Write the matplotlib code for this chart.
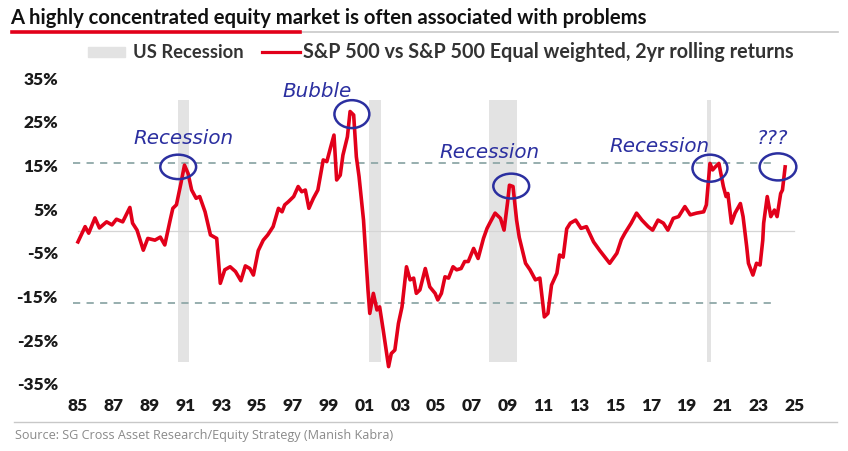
import matplotlib
matplotlib.use("Agg")
import matplotlib.pyplot as plt
from matplotlib.lines import Line2D
from matplotlib.patches import Rectangle, Ellipse

# Relative 2yr rolling returns, S&P 500 vs S&P 500 Equal weighted (%)
years = [
    1985.0, 1985.4, 1985.6, 1985.95, 1986.2, 1986.6, 1986.9, 1987.15, 1987.5, 1987.9,
    1988.05, 1988.3, 1988.65, 1988.9, 1989.3, 1989.6, 1989.85, 1990.15, 1990.3, 1990.5,
    1990.75, 1990.95, 1991.15, 1991.35, 1991.6, 1991.8, 1992.1, 1992.4, 1992.75, 1992.95,
    1993.2, 1993.5, 1993.8, 1994.1, 1994.35, 1994.6, 1994.8, 1995.07, 1995.35, 1995.6,
    1995.9, 1996.2, 1996.4, 1996.55, 1996.75, 1997.05, 1997.3, 1997.5, 1997.7, 1997.9,
    1998.15, 1998.4, 1998.7, 1998.9, 1999.1, 1999.3, 1999.45, 1999.65, 1999.8, 2000.05,
    2000.2, 2000.4, 2000.55, 2000.7, 2000.95, 2001.2, 2001.3, 2001.5, 2001.7, 2001.85,
    2002.05, 2002.35, 2002.5, 2002.7, 2002.9, 2003.1, 2003.35, 2003.55, 2003.75, 2003.9,
    2004.1, 2004.4, 2004.65, 2004.95, 2005.1, 2005.3, 2005.5, 2005.7, 2005.95, 2006.15,
    2006.4, 2006.6, 2006.8, 2007.1, 2007.35, 2007.65, 2007.85, 2008.0, 2008.3, 2008.6,
    2008.8, 2009.0, 2009.1, 2009.3, 2009.5, 2009.65, 2010.0, 2010.25, 2010.55, 2010.8,
    2011.05, 2011.25, 2011.45, 2011.75, 2011.9, 2012.1, 2012.3, 2012.5, 2012.8, 2013.1,
    2013.4, 2013.8, 2014.15, 2014.7, 2015.1, 2015.35, 2015.55, 2015.9, 2016.2, 2016.5,
    2016.85, 2017.1, 2017.4, 2017.7, 2017.95, 2018.25, 2018.55, 2018.9, 2019.2, 2019.55,
    2019.95, 2020.1, 2020.3, 2020.45, 2020.6, 2020.8, 2021.05, 2021.2, 2021.3, 2021.5,
    2021.7, 2022.0, 2022.15, 2022.35, 2022.45, 2022.7, 2022.9, 2023.1, 2023.25, 2023.3,
    2023.5, 2023.7, 2023.9, 2024.05, 2024.25, 2024.35, 2024.5,
]
returns = [
    -2.5, 1.0, -0.5, 3.0, 0.7, 2.1, 1.4, 2.7, 2.1, 5.4,
    1.8, 0.2, -4.4, -1.7, -2.1, -1.4, -3.2, 2.5, 5.2, 6.0,
    10.9, 15.1, 13.2, 9.4, 7.5, 7.9, 4.4, -0.9, -1.7, -12.0,
    -8.9, -8.2, -9.3, -11.4, -8.0, -8.6, -10.1, -4.5, -2.1, -0.9,
    1.0, 5.2, 4.4, 6.0, 6.7, 7.9, 10.2, 9.0, 9.4, 5.2,
    7.5, 9.4, 16.3, 15.9, 19.0, 22.0, 11.7, 12.8, 17.4, 21.6,
    27.4, 26.6, 17.0, 12.5, 2.5, -13.5, -18.9, -14.3, -18.1, -17.4,
    -22.7, -31.1, -28.1, -27.3, -21.2, -17.4, -8.2, -11.2, -10.8, -14.3,
    -13.5, -8.6, -12.8, -14.3, -15.8, -14.3, -10.5, -10.8, -8.2, -8.9,
    -8.6, -7.0, -7.0, -4.0, -6.3, -1.7, 0.6, 1.8, 4.1, 2.9,
    0.2, 6.7, 10.5, 10.2, 2.5, -1.5, -7.4, -8.9, -11.2, -10.8,
    -19.7, -18.9, -12.4, -9.7, -5.5, -6.0, 0.5, 1.8, 2.5, 0.6,
    1.0, -2.5, -4.5, -7.4, -5.1, -2.0, -0.5, 1.8, 4.1, 2.5,
    1.0, 0.2, 2.5, 1.8, 0.2, 2.9, 3.3, 5.6, 3.7, 4.1,
    4.4, 6.0, 15.5, 14.0, 14.7, 15.5, 10.2, 7.9, 8.6, 1.8,
    4.1, 6.3, 3.3, -3.5, -7.4, -10.1, -7.4, -7.8, -2.1, 1.8,
    7.9, 3.3, 4.8, 3.3, 8.6, 9.4, 14.7,
]

recessions = [(1990.6, 1991.2), (2001.25, 2001.9), (2007.95, 2009.5), (2020.15, 2020.35)]
upper_band = 15.6
lower_band = -16.5

tick_years = list(range(1985, 2026, 2))
tick_labels = [f"{y % 100:02d}" for y in tick_years]
y_ticks = [-35, -25, -15, -5, 5, 15, 25, 35]

# annotations: (text, x, y) and circles (x, y, width, height)
notes = [("Recession", 1990.87, 21.3), ("Bubble", 1998.35, 31.9),
         ("Recession", 2008.0, 18.1), ("Recession", 2017.46, 19.3), ("???", 2023.8, 21.3)]
circles = [(1990.6, 14.7, 2.0, 5.6), (2000.3, 26.8, 1.95, 6.4), (2009.2, 10.3, 2.0, 5.7),
           (2020.3, 14.4, 1.95, 6.2), (2024.1, 14.7, 2.05, 6.2)]

RED = "#E2001A"
BLUE = "#2B2FA0"
W, H = 848, 451

fig = plt.figure(figsize=(W / 100, H / 100), dpi=100)
fig.patch.set_facecolor("white")
renderer = fig.canvas.get_renderer()


def fitted_text(x, y, s, width_px, **kw):
    # put text at pixel position and scale font so it spans width_px
    t = fig.text(x / W, 1 - y / H, s, va="center", **kw)
    w = t.get_window_extent(renderer).width
    t.set_fontsize(t.get_fontsize() * width_px / w)
    return t


ax = fig.add_axes([69 / W, (H - 388) / H, (812 - 69) / W, (388 - 74) / H])

for a, b in recessions:
    ax.fill_between([a, b], -30, 30, color="#E3E3E3", lw=0, zorder=0)

ax.plot([1985, 2025], [0, 0], color="#D5D5D5", lw=0.9, zorder=1)
ax.plot([1984.75, 2023.95], [upper_band] * 2, ls=(0, (4, 3.5)), color="#8FA8A8", lw=1.3, zorder=1)
ax.plot([1984.75, 2023.7], [lower_band] * 2, ls=(0, (4, 3.5)), color="#8FA8A8", lw=1.3, zorder=1)

ax.plot(years, returns, color=RED, lw=2.6, solid_joinstyle="round", zorder=3)

for txt, x, y in notes:
    ax.text(x, y, txt, color=BLUE, fontsize=14.3, style="italic", ha="center", va="center",
            family="DejaVu Sans", zorder=4)
for x, y, w, h in circles:
    ax.add_patch(Ellipse((x, y), w, h, fill=False, ec=BLUE, lw=1.8, zorder=4))

ax.set_xlim(1984.5, 2026)
ax.set_ylim(-36, 36)
ax.set_xticks(tick_years)
ax.set_xticklabels(tick_labels, fontfamily="Lato", fontweight="heavy", fontsize=12.5)
ax.set_yticks(y_ticks)
ax.set_yticklabels([f"{v}%" for v in y_ticks], fontfamily="Lato", fontweight="heavy", fontsize=12.5)
ax.tick_params(length=0, colors="#1A1A1A")
ax.tick_params(axis="x", pad=7)
ax.tick_params(axis="y", pad=8)
for s in ax.spines.values():
    s.set_visible(False)

# title and underline
fitted_text(10, 18, "A highly concentrated equity market is often associated with problems", 638,
            fontsize=14, fontweight="bold", family="Lato", color="#111111")
fig.add_artist(Line2D([300 / W, 838 / W], [1 - 32 / H] * 2, color="#C8C8C8", lw=1.2))
fig.add_artist(Line2D([12 / W, 300 / W], [1 - 32 / H] * 2, color=RED, lw=2.6))

# legend
fig.add_artist(Rectangle((88 / W, 1 - 57 / H), 37 / W, 10 / H, color="#E3E3E3", transform=fig.transFigure))
fitted_text(133, 52, "US Recession", 110, fontsize=12, fontweight="bold", family="Lato", color="#333333")
fig.add_artist(Line2D([262 / W, 300 / W], [1 - 52 / H] * 2, color=RED, lw=2.3))
fitted_text(303, 52, "S&P 500 vs S&P 500 Equal weighted, 2yr rolling returns", 487,
            fontsize=12, fontweight="bold", family="Lato", color="#333333")

# source
fig.add_artist(Line2D([14 / W, 837 / W], [1 - 422 / H] * 2, color="#C8C8C8", lw=1.0))
fitted_text(15, 435, "Source: SG Cross Asset Research/Equity Strategy (Manish Kabra)", 378,
            fontsize=9, family="Open Sans", color="#8A8A8A")

fig.savefig("out.png", dpi=100)
